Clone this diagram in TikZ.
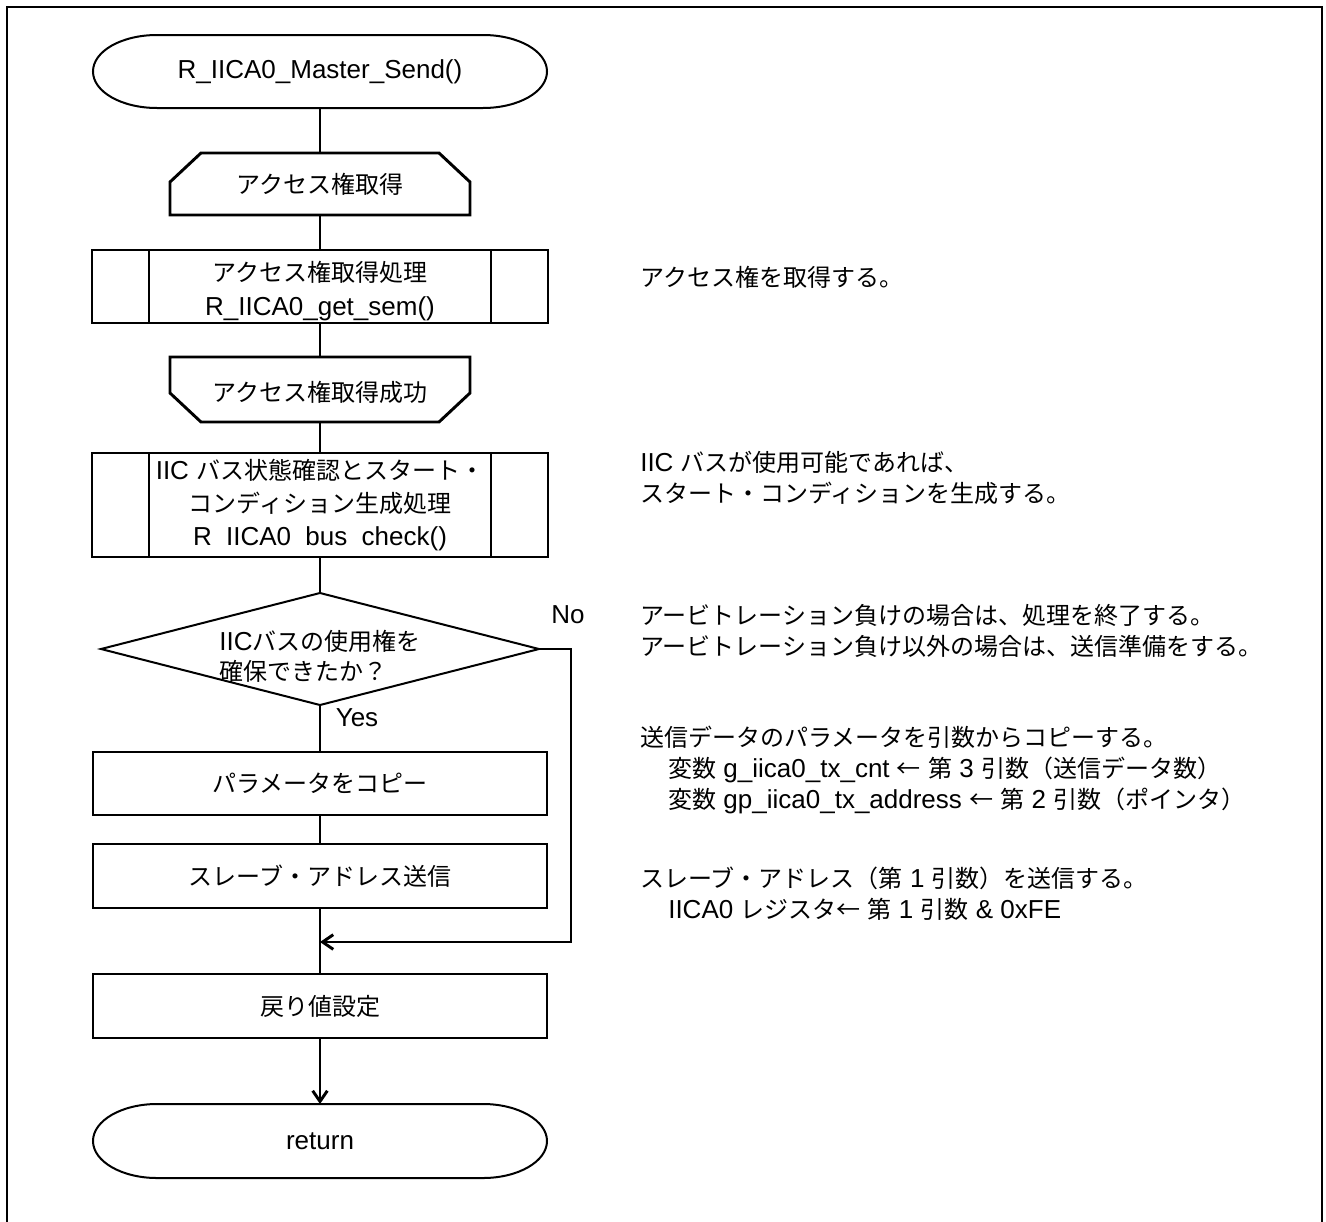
\documentclass[tikz,border=0pt]{standalone}
\usepackage{fontspec}
\setmainfont{Liberation Sans}
\newfontfamily\jpf[Scale=0.923]{Noto Sans CJK JP}
\newcommand\jj[1]{{\jpf #1}}
\usetikzlibrary{calc,arrows.meta}
\begin{document}
\begin{tikzpicture}[x=0.75pt,y=-0.75pt,
  every node/.style={font=\fontsize{19.5}{26}\selectfont},
  slot/.style 2 args={shape=rectangle,inner sep=0pt,outer sep=0pt,
    minimum width=#1*0.75pt,minimum height=#2*0.75pt,align=center},
  boxline/.style={line width=1.5pt},
  flow/.style={line width=2.2pt},
  loopline/.style={line width=2.2pt,line join=miter},
  arr/.style={flow,-{Straight Barb[length=8pt,width=11pt]}},
  note/.style={font=\fontsize{19.5}{23.25}\selectfont,align=left,inner sep=0pt,anchor=west},
  lab/.style={font=\fontsize{19.5}{22}\selectfont,inner sep=0pt}
]
\useasboundingbox (0,0) rectangle (1326,1221);
% outer frame
\draw[line width=2pt] (7,1240) -- (7,7) -- (1322,7) -- (1322,1240);

% terminals
\newcommand\termpath[1]{%
\draw[boxline] ($(#1.north west)+(64,0)$) -- ($(#1.north east)+(-64,0)$)
 .. controls ($(#1.north east)+(-28.7,0)$) and ($(#1.east)+(0,-20.4)$) .. (#1.east)
 .. controls ($(#1.east)+(0,20.4)$) and ($(#1.south east)+(-28.7,0)$) .. ($(#1.south east)+(-64,0)$)
 -- ($(#1.south west)+(64,0)$)
 .. controls ($(#1.south west)+(28.7,0)$) and ($(#1.west)+(0,20.4)$) .. (#1.west)
 .. controls ($(#1.west)+(0,-20.4)$) and ($(#1.north west)+(28.7,0)$) .. cycle;}

\node[slot={454}{73}] (start) at (320,71.5) {R\_IICA0\_Master\_Send()};
\termpath{start}

% loop start
\node[slot={300}{62}] (ls) at (320,184) {\jj{アクセス権取得}};
\draw[loopline] (ls.south west) -- ($(ls.north west)+(0,29)$) -- ($(ls.north west)+(31,0)$)
  -- ($(ls.north east)+(-31,0)$) -- ($(ls.north east)+(0,29)$) -- (ls.south east) -- cycle;

% subroutine 1
\node[slot={456}{73},draw,boxline] (s1) at (320,286.5)
  {\raisebox{-3.75pt}[\height][\depth]{\begin{tabular}{@{}c@{}}\jj{アクセス権取得処理}\\R\_IICA0\_get\_sem()\end{tabular}}};
\draw[boxline] ($(s1.north west)+(57,0)$) -- ($(s1.south west)+(57,0)$);
\draw[boxline] ($(s1.north east)+(-57,0)$) -- ($(s1.south east)+(-57,0)$);

% loop end
\node[slot={300}{65}] (le) at (320,389.5) {\raisebox{-2pt}[\height][\depth]{\jj{アクセス権取得成功}}};
\draw[loopline] (le.north west) -- (le.north east) -- ($(le.south east)+(0,-29)$)
  -- ($(le.south east)+(-31,0)$) -- ($(le.south west)+(31,0)$) -- ($(le.south west)+(0,-29)$) -- cycle;

% subroutine 2
\node[slot={456}{104},draw,boxline,font=\fontsize{19.5}{24.75}\selectfont] (s2) at (320,505)
  {IIC \jj{バス状態確認とスタート・}\\\jj{コンディション生成処理}\\R\hspace{0.55em}IICA0\hspace{0.55em}bus\hspace{0.55em}check()};
\draw[boxline] ($(s2.north west)+(57,0)$) -- ($(s2.south west)+(57,0)$);
\draw[boxline] ($(s2.north east)+(-57,0)$) -- ($(s2.south east)+(-57,0)$);

% decision
\node[slot={438}{112},align=left,font=\fontsize{19.5}{22.5}\selectfont] (dia) at (320,649)
  {\raisebox{-7.5pt}[\height][\depth]{\begin{tabular}{@{}l@{}}IIC\jj{バスの使用権を}\\\jj{確保できたか？}\end{tabular}}};
\draw[boxline,line join=miter] (dia.north) -- (dia.east) -- (dia.south) -- (dia.west) -- cycle;

% processes
\node[slot={454}{63},draw,boxline] (p1) at (320,783.5) {\jj{パラメータをコピー}};
\node[slot={454}{64},draw,boxline] (p2) at (320,876) {\jj{スレーブ・アドレス送信}};
\node[slot={454}{64},draw,boxline] (p3) at (320,1006) {\jj{戻り値設定}};

% return
\node[slot={454}{74}] (ret) at (320,1141) {return};
\termpath{ret}

% connectors
\draw[flow] (start) -- (ls);
\draw[flow] (ls) -- (s1);
\draw[flow] (s1) -- (le);
\draw[flow] (le) -- (s2);
\draw[flow] (s2) -- (dia);
\draw[flow] (dia) -- (p1);
\draw[flow] (p1) -- (p2);
\draw[flow] (p2) -- (p3);
\draw[arr] (p3) -- (ret);
\coordinate (nr) at (571,649);
\coordinate (join) at (320,942);
\draw[arr] (dia.east) -- (nr) |- (join);

\node[lab] (yes) at (357,718) {Yes};
\node[lab] (no) at (568,615) {No};

% notes
\node[note] (n1) at (640,277) {\jj{アクセス権を取得する。}};
\node[note] (n2) at (640,478) {IIC \jj{バスが使用可能であれば、}\\\jj{スタート・コンディションを生成する。}};
\node[note] (n3) at (640,631) {\jj{アービトレーション負けの場合は、処理を終了する。}\\\jj{アービトレーション負け以外の場合は、送信準備をする。}};
\node[note] (n4) at (640,770) {\jj{送信データのパラメータを引数からコピーする。}\\
  \hspace*{21pt}\jj{変数} g\_iica0\_tx\_cnt \jj{←} \jj{第} 3 \jj{引数（送信データ数）}\\
  \hspace*{21pt}\jj{変数} gp\_iica0\_tx\_address \jj{←} \jj{第} 2 \jj{引数（ポインタ）}};
\node[note] (n5) at (640,894) {\jj{スレーブ・アドレス（第} 1 \jj{引数）を送信する。}\\
  \hspace*{21pt}IICA0 \jj{レジスタ←} \jj{第} 1 \jj{引数} \& 0xFE};
\end{tikzpicture}
\end{document}
